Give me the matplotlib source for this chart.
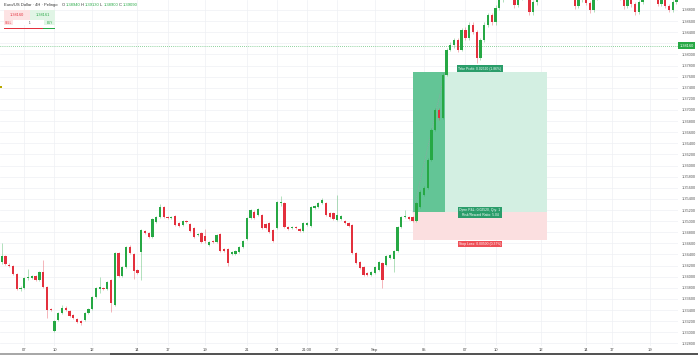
import matplotlib
matplotlib.use("Agg")
import matplotlib.pyplot as plt
import matplotlib.transforms as mtransforms
import numpy as np
from matplotlib.patches import Rectangle

plt.rcParams["font.family"] = ["Liberation Sans", "DejaVu Sans"]

# 4H candles, oldest first
OPEN = [
    1.3426, 1.3437, 1.3421, 1.3419, 1.3405, 1.3378, 1.3380, 1.3398, 1.3398, 1.3401,
    1.3394, 1.3408, 1.3381, 1.3342, 1.3302, 1.3322, 1.3335, 1.3344, 1.3338, 1.3331,
    1.3324, 1.3320, 1.3322, 1.3335, 1.3342, 1.3363, 1.3378, 1.3380, 1.3378, 1.3394,
    1.3349, 1.3443, 1.3401, 1.3417, 1.3453, 1.3441, 1.3412, 1.3444, 1.3482, 1.3479,
    1.3471, 1.3498, 1.3507, 1.3525, 1.3507, 1.3506, 1.3509, 1.3497, 1.3493, 1.3500,
    1.3495, 1.3488, 1.3475, 1.3479, 1.3473, 1.3457, 1.3464, 1.3462, 1.3477, 1.3450,
    1.3450, 1.3441, 1.3441, 1.3444, 1.3453, 1.3468, 1.3506, 1.3516, 1.3511, 1.3511,
    1.3495, 1.3497, 1.3484, 1.3488, 1.3533, 1.3533, 1.3489, 1.3488, 1.3489, 1.3486,
    1.3482, 1.3493, 1.3491, 1.3524, 1.3525, 1.3533, 1.3533, 1.3515, 1.3515, 1.3502,
    1.3504, 1.3500, 1.3497, 1.3493, 1.3443, 1.3426, 1.3417, 1.3407, 1.3403, 1.3407,
    1.3412, 1.3425, 1.3421, 1.3434, 1.3432, 1.3446, 1.3489, 1.3507, 1.3507, 1.3507,
    1.3500, 1.3525, 1.3547, 1.3560, 1.3610, 1.3664, 1.3700, 1.3686, 1.3763, 1.3808,
    1.3817, 1.3826, 1.3808, 1.3844, 1.3830, 1.3853, 1.3840, 1.3794, 1.3826, 1.3853,
    1.3871, 1.3858, 1.3884, 1.3898, 1.3912, 1.3927, 1.3909, 1.3889, 1.3902, 1.3920,
    1.3905, 1.3876, 1.3894, 1.3916, 1.3934, 1.3920, 1.3943, 1.3952, 1.3938, 1.3961,
    1.3948, 1.3925, 1.3907, 1.3887, 1.3898, 1.3912, 1.3893, 1.3880, 1.3902, 1.3923,
    1.3941, 1.3930, 1.3952, 1.3938, 1.3916, 1.3902, 1.3887, 1.3905, 1.3891, 1.3876,
    1.3894, 1.3916, 1.3934, 1.3920, 1.3905, 1.3891, 1.3902, 1.3887, 1.3880, 1.3894,
]
HIGH = [
    1.3461, 1.3439, 1.3425, 1.3421, 1.3407, 1.3383, 1.3399, 1.3414, 1.3403, 1.3403,
    1.3410, 1.3430, 1.3383, 1.3344, 1.3322, 1.3336, 1.3349, 1.3347, 1.3340, 1.3333,
    1.3326, 1.3322, 1.3336, 1.3344, 1.3365, 1.3381, 1.3399, 1.3381, 1.3392, 1.3396,
    1.3444, 1.3444, 1.3419, 1.3455, 1.3457, 1.3443, 1.3414, 1.3486, 1.3484, 1.3480,
    1.3506, 1.3509, 1.3531, 1.3527, 1.3509, 1.3509, 1.3511, 1.3498, 1.3502, 1.3502,
    1.3497, 1.3489, 1.3479, 1.3480, 1.3486, 1.3464, 1.3466, 1.3477, 1.3479, 1.3452,
    1.3452, 1.3446, 1.3448, 1.3455, 1.3466, 1.3507, 1.3522, 1.3520, 1.3524, 1.3513,
    1.3497, 1.3498, 1.3486, 1.3536, 1.3545, 1.3534, 1.3491, 1.3491, 1.3491, 1.3488,
    1.3498, 1.3498, 1.3527, 1.3529, 1.3534, 1.3542, 1.3534, 1.3516, 1.3516, 1.3547,
    1.3511, 1.3502, 1.3498, 1.3495, 1.3444, 1.3428, 1.3419, 1.3408, 1.3410, 1.3419,
    1.3428, 1.3426, 1.3439, 1.3441, 1.3448, 1.3491, 1.3509, 1.3520, 1.3509, 1.3509,
    1.3534, 1.3556, 1.3563, 1.3614, 1.3668, 1.3704, 1.3704, 1.3767, 1.3812, 1.3822,
    1.3830, 1.3830, 1.3848, 1.3849, 1.3858, 1.3858, 1.3844, 1.3830, 1.3858, 1.3875,
    1.3875, 1.3889, 1.3903, 1.3916, 1.3932, 1.3932, 1.3912, 1.3905, 1.3925, 1.3925,
    1.3909, 1.3898, 1.3920, 1.3940, 1.3938, 1.3948, 1.3957, 1.3957, 1.3966, 1.3966,
    1.3952, 1.3929, 1.3912, 1.3902, 1.3916, 1.3916, 1.3896, 1.3906, 1.3928, 1.3946,
    1.3945, 1.3956, 1.3956, 1.3942, 1.3920, 1.3906, 1.3909, 1.3909, 1.3895, 1.3898,
    1.3920, 1.3938, 1.3938, 1.3924, 1.3909, 1.3906, 1.3906, 1.3891, 1.3898, 1.3913,
]
LOW = [
    1.3423, 1.3421, 1.3417, 1.3403, 1.3376, 1.3374, 1.3378, 1.3394, 1.3396, 1.3392,
    1.3392, 1.3380, 1.3326, 1.3338, 1.3300, 1.3320, 1.3333, 1.3338, 1.3327, 1.3324,
    1.3317, 1.3313, 1.3320, 1.3333, 1.3340, 1.3362, 1.3371, 1.3376, 1.3376, 1.3336,
    1.3347, 1.3399, 1.3399, 1.3416, 1.3441, 1.3396, 1.3405, 1.3394, 1.3477, 1.3470,
    1.3470, 1.3497, 1.3506, 1.3506, 1.3504, 1.3504, 1.3491, 1.3489, 1.3491, 1.3497,
    1.3480, 1.3470, 1.3473, 1.3461, 1.3461, 1.3455, 1.3461, 1.3461, 1.3444, 1.3444,
    1.3419, 1.3439, 1.3439, 1.3443, 1.3452, 1.3466, 1.3504, 1.3504, 1.3509, 1.3486,
    1.3486, 1.3479, 1.3462, 1.3486, 1.3527, 1.3488, 1.3484, 1.3486, 1.3486, 1.3480,
    1.3480, 1.3491, 1.3489, 1.3522, 1.3524, 1.3531, 1.3509, 1.3506, 1.3502, 1.3500,
    1.3502, 1.3495, 1.3489, 1.3441, 1.3423, 1.3414, 1.3401, 1.3401, 1.3401, 1.3405,
    1.3410, 1.3380, 1.3419, 1.3432, 1.3408, 1.3444, 1.3488, 1.3506, 1.3502, 1.3498,
    1.3498, 1.3524, 1.3545, 1.3558, 1.3608, 1.3662, 1.3682, 1.3684, 1.3761, 1.3806,
    1.3812, 1.3804, 1.3806, 1.3826, 1.3826, 1.3837, 1.3785, 1.3790, 1.3822, 1.3849,
    1.3853, 1.3853, 1.3880, 1.3894, 1.3909, 1.3905, 1.3884, 1.3886, 1.3898, 1.3900,
    1.3871, 1.3871, 1.3889, 1.3912, 1.3916, 1.3916, 1.3938, 1.3934, 1.3934, 1.3943,
    1.3920, 1.3902, 1.3882, 1.3884, 1.3894, 1.3889, 1.3875, 1.3876, 1.3898, 1.3919,
    1.3926, 1.3926, 1.3934, 1.3912, 1.3898, 1.3882, 1.3883, 1.3886, 1.3871, 1.3872,
    1.3890, 1.3912, 1.3916, 1.3901, 1.3887, 1.3887, 1.3883, 1.3876, 1.3876, 1.3890,
]
CLOSE = [
    1.3437, 1.3423, 1.3419, 1.3405, 1.3378, 1.3380, 1.3398, 1.3399, 1.3401, 1.3394,
    1.3408, 1.3381, 1.3340, 1.3340, 1.3320, 1.3335, 1.3344, 1.3340, 1.3329, 1.3326,
    1.3318, 1.3317, 1.3335, 1.3342, 1.3363, 1.3380, 1.3381, 1.3378, 1.3390, 1.3353,
    1.3443, 1.3401, 1.3417, 1.3453, 1.3443, 1.3410, 1.3407, 1.3484, 1.3479, 1.3471,
    1.3504, 1.3507, 1.3525, 1.3507, 1.3506, 1.3507, 1.3493, 1.3491, 1.3500, 1.3498,
    1.3482, 1.3471, 1.3477, 1.3462, 1.3464, 1.3462, 1.3462, 1.3475, 1.3446, 1.3446,
    1.3425, 1.3444, 1.3446, 1.3453, 1.3464, 1.3506, 1.3520, 1.3506, 1.3522, 1.3488,
    1.3488, 1.3480, 1.3464, 1.3534, 1.3534, 1.3489, 1.3486, 1.3489, 1.3488, 1.3482,
    1.3497, 1.3497, 1.3525, 1.3527, 1.3533, 1.3538, 1.3511, 1.3507, 1.3504, 1.3511,
    1.3509, 1.3497, 1.3491, 1.3443, 1.3425, 1.3416, 1.3403, 1.3403, 1.3408, 1.3417,
    1.3426, 1.3394, 1.3437, 1.3439, 1.3446, 1.3489, 1.3507, 1.3509, 1.3504, 1.3500,
    1.3533, 1.3552, 1.3560, 1.3610, 1.3664, 1.3700, 1.3686, 1.3763, 1.3808, 1.3817,
    1.3826, 1.3808, 1.3844, 1.3830, 1.3853, 1.3840, 1.3794, 1.3826, 1.3853, 1.3871,
    1.3858, 1.3884, 1.3898, 1.3912, 1.3927, 1.3909, 1.3889, 1.3902, 1.3920, 1.3905,
    1.3876, 1.3894, 1.3916, 1.3934, 1.3920, 1.3943, 1.3952, 1.3938, 1.3961, 1.3948,
    1.3925, 1.3907, 1.3887, 1.3898, 1.3912, 1.3893, 1.3880, 1.3902, 1.3923, 1.3941,
    1.3930, 1.3952, 1.3938, 1.3916, 1.3902, 1.3887, 1.3905, 1.3891, 1.3876, 1.3894,
    1.3916, 1.3934, 1.3920, 1.3905, 1.3891, 1.3902, 1.3887, 1.3880, 1.3894, 1.3909,
]

DATE_POS    = [6, 14, 24, 36, 44, 54, 65, 73, 81, 89, 99, 112, 123, 131, 143, 155, 162, 172]
DATE_LABELS = ["07", "10", "12", "14", "17", "19", "21", "24", "21:00", "27",
               "Sep", "05", "07", "10", "12", "14", "17", "19"]

# long position tool
ENTRY, TAKE_PROFIT, STOP_LOSS = 1.3516, 1.3768, 1.3466
POS_START, POS_HIT, POS_END = 109.1, 117.6, 144.6
LAST_PRICE = 1.3816

UP, DOWN = "#26a844", "#e3303d"
GRID = "#eef0f4"

fig = plt.figure(figsize=(6.98, 3.55), dpi=100)
ax = fig.add_axes([0, 9 / 355, 678 / 698, 346 / 355])
ax.set_xlim(-0.45, 179.4)
ax.set_ylim(1.32752, 1.3898)

o, h, l, c = map(np.array, (OPEN, HIGH, LOW, CLOSE))
x = np.arange(len(o))
up = c >= o
cols = np.where(up, UP, DOWN)

# position tool areas (behind candles)
ax.add_patch(Rectangle((POS_START, ENTRY), POS_END - POS_START, TAKE_PROFIT - ENTRY,
                       facecolor="#d3efe2", edgecolor="none", zorder=1))
ax.add_patch(Rectangle((POS_START, STOP_LOSS), POS_END - POS_START, ENTRY - STOP_LOSS,
                       facecolor="#fbdfe0", edgecolor="none", zorder=1))
ax.add_patch(Rectangle((POS_START, ENTRY), POS_HIT - POS_START, TAKE_PROFIT - ENTRY,
                       facecolor="#63c596", edgecolor="none", zorder=1.1))
ax.plot([POS_START, POS_HIT], [ENTRY, TAKE_PROFIT], color="#9aa0a6", lw=0.4,
        ls=(0, (2, 1.5)), zorder=1.2)

# candles
ax.vlines(x, l, h, colors=cols, linewidth=0.45, alpha=0.55, zorder=3)
body = np.maximum(np.abs(c - o), 0.00012)
ax.bar(x, body, bottom=np.minimum(o, c), width=0.6, color=cols, linewidth=0, zorder=4)

# labels of the position tool
mid = (POS_START + POS_END) / 2
lbl = dict(fontsize=2.4, color="white", ha="center", zorder=6)
gain = TAKE_PROFIT - ENTRY
risk = ENTRY - STOP_LOSS
ax.text(mid, TAKE_PROFIT + 0.0003, f"Take Profit: {gain:.5f} ({gain / ENTRY * 100:.2f}%)",
        va="bottom", bbox=dict(boxstyle="square,pad=0.35", fc="#2a9d6a", ec="none"), **lbl)
ax.text(mid, ENTRY, f"Open P&L: {gain:.5f}, Qty: 1\nRisk/Reward Ratio: {gain / risk:.2f}",
        va="center", linespacing=1.2,
        bbox=dict(boxstyle="square,pad=0.35", fc="#2a9d6a", ec="none"), **lbl)
ax.text(mid, STOP_LOSS - 0.0003, f"Stop Loss: {risk:.5f} ({risk / ENTRY * 100:.2f}%)",
        va="top", bbox=dict(boxstyle="square,pad=0.35", fc="#ee4f57", ec="none"), **lbl)

# last price line + axis tag
ax.axhline(LAST_PRICE, color=UP, lw=0.5, ls=(0, (1, 2)), zorder=5)
tr = mtransforms.blended_transform_factory(ax.transAxes, ax.transData)
ax.text(1.002, LAST_PRICE, f"{LAST_PRICE:.5f}", transform=tr, fontsize=2.8, color="white",
        ha="left", va="center", clip_on=False, zorder=7,
        bbox=dict(boxstyle="square,pad=0.45", fc=UP, ec="none"))

# grid + axes
ticks = np.arange(1.328, 1.3885, 0.002)
ax.set_yticks(ticks)
# the label hidden under the last-price tag is left blank
ax.set_yticklabels(["" if abs(t - LAST_PRICE) < 0.0015 else f"{t:.5f}" for t in ticks])
ax.yaxis.tick_right()
ax.set_xticks(DATE_POS)
ax.set_xticklabels(DATE_LABELS)
ax.tick_params(axis="y", length=0, pad=3, labelsize=2.8, labelcolor="#555555")
ax.tick_params(axis="x", length=0, pad=1.2, labelsize=3.0, labelcolor="#444444")
ax.grid(True, color=GRID, lw=0.5, zorder=0)
ax.set_axisbelow(True)
for s in ax.spines.values():
    s.set_visible(False)

# tiny marker at left edge
ax.add_patch(Rectangle((-0.45, 1.3740), 0.5, 0.0004, facecolor="#b8a800", edgecolor="none",
                       clip_on=False, zorder=6))

# header line
hdr = dict(fontsize=3.0, va="center", ha="left")
fig.text(4 / 698, 1 - 5 / 355, "Euro/US Dollar · 4H · Pelingo", color="#333333", **hdr)
vals = [("O", OPEN[-1]), ("H", HIGH[-1]), ("L", LOW[-1]), ("C", CLOSE[-1])]
xx = 62
for k, v in vals:
    fig.text(xx / 698, 1 - 5 / 355, k, color="#333333", **hdr)
    fig.text((xx + 4) / 698, 1 - 5 / 355, f"{v:.5f}", color=UP, **hdr)
    xx += 19

# sell / buy widget
def box(x0, y0, w, hh, fc):
    fig.patches.append(Rectangle((x0 / 698, 1 - (y0 + hh) / 355), w / 698, hh / 355,
                                 transform=fig.transFigure, facecolor=fc, edgecolor="none"))

box(4, 10, 26, 9.5, "#fde3e4")
box(30, 10, 25, 9.5, "#e1f5e6")
box(4, 20, 9, 5, "#fde3e4")
box(13, 20, 31, 5, "white")
box(44, 20, 11, 5, "#e1f5e6")
box(4, 27.5, 39, 1.5, DOWN)
box(43, 27.5, 12, 1.5, UP)
fig.text(17 / 698, 1 - 14.5 / 355, f"{LAST_PRICE:.5f}", color=DOWN, fontsize=2.8,
         ha="center", va="center")
fig.text(42.5 / 698, 1 - 14.5 / 355, f"{LAST_PRICE + 0.00001:.5f}", color=UP, fontsize=2.8,
         ha="center", va="center")
fig.text(8.5 / 698, 1 - 22.5 / 355, "SELL", color=DOWN, fontsize=2.2, ha="center", va="center")
fig.text(30 / 698, 1 - 22.5 / 355, "1", color="#333333", fontsize=2.2, ha="center", va="center")
fig.text(49.5 / 698, 1 - 22.5 / 355, "BUY", color=UP, fontsize=2.2, ha="center", va="center")

# bottom scroll strip
box(0, 353, 110, 2, "#a8a8a8")
box(110, 353, 588, 2, "#555555")

fig.savefig("out.png", dpi=100, facecolor="white")
